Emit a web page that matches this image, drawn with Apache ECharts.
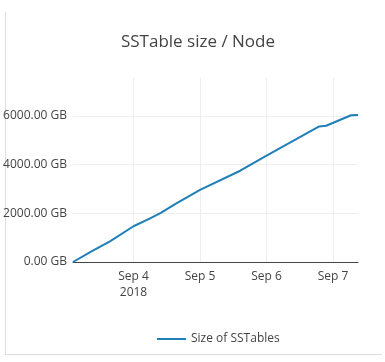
<!DOCTYPE html>
<html><head><meta charset="utf-8">
<script src="https://cdn.jsdelivr.net/npm/echarts@6/dist/echarts.min.js"></script>
<style>html,body{margin:0;padding:0;background:#fff}#c{width:385px;height:362px}</style>
</head><body><div id="c"></div>
<script>
var times = ['2018-09-03 02:10','2018-09-03 09:00','2018-09-03 15:30','2018-09-04 00:00','2018-09-04 06:00','2018-09-04 10:00','2018-09-04 15:00','2018-09-05 00:00','2018-09-05 14:30','2018-09-06 00:00','2018-09-06 19:00','2018-09-06 21:30','2018-09-07 06:30','2018-09-07 09:00'];
var sizes = [0, 443, 850, 1470, 1790, 2030, 2380, 2960, 3750, 4370, 5570, 5600, 6030, 6040];
var yTicks = [0, 2000, 4000, 6000];
var xTicks = ['2018-09-04 00:00','2018-09-05 00:00','2018-09-06 00:00','2018-09-07 00:00'];
var seriesName = 'Size of SSTables';
var titleText = 'SSTable size / Node';

function ts(s){var p=s.split(/[- :]/);return new Date(+p[0],+p[1]-1,+p[2],+p[3],+p[4]).getTime();}
var data = times.map(function(t,i){return [ts(t), sizes[i]];});
var xTickVals = xTicks.map(ts);
var months=['Jan','Feb','Mar','Apr','May','Jun','Jul','Aug','Sep','Oct','Nov','Dec'];
var font = '"Open Sans", sans-serif';
var chart = echarts.init(document.getElementById('c'));
chart.setOption({
  animation:false,
  textStyle:{fontFamily:font},
  title:{text:titleText,left:193,textAlign:'center',top:29,textStyle:{fontFamily:font,fontSize:17,fontWeight:'normal',color:'#444'}},
  grid:{left:73,right:27,top:78,bottom:100},
  legend:{left:157,top:333,padding:0,itemWidth:29,itemHeight:2,itemGap:10,textStyle:{fontFamily:font,fontSize:12,color:'#444'},
    data:[{name:seriesName,icon:'rect',itemStyle:{color:'#1f7fb8'}}]},
  xAxis:{type:'value',min:data[0][0],max:data[data.length-1][0],scale:true,
    axisLine:{show:true,onZero:false,lineStyle:{color:'#444',width:1}},
    axisTick:{show:false,customValues:xTickVals},
    splitLine:{show:true,lineStyle:{color:'#eee',width:1}},
    axisLabel:{customValues:xTickVals,color:'#444',fontSize:12,fontFamily:font,margin:7,lineHeight:16,
      formatter:function(v){var d=new Date(v);var s=months[d.getMonth()]+' '+d.getDate();return v===xTickVals[0]?s+'\n'+d.getFullYear():s;}}
  },
  yAxis:{type:'value',min:0,max:7560,
    axisLine:{show:false},axisTick:{show:false,customValues:yTicks},
    splitLine:{show:true,lineStyle:{color:'#eee',width:1}},
    axisLabel:{customValues:yTicks,color:'#444',fontSize:12,fontFamily:font,margin:6,
      formatter:function(v){return v.toFixed(2)+' GB';}}
  },
  graphic:[
    {type:'line',shape:{x1:5.5,y1:12,x2:5.5,y2:354},style:{stroke:'#ddd',lineWidth:1},silent:true},
    {type:'line',shape:{x1:5,y1:354.5,x2:382,y2:354.5},style:{stroke:'#ddd',lineWidth:1},silent:true}
  ],
  series:[{name:seriesName,type:'line',data:data,symbol:'none',lineStyle:{color:'#1f7fb8',width:2},itemStyle:{color:'#1f7fb8'}}]
});
</script></body></html>
